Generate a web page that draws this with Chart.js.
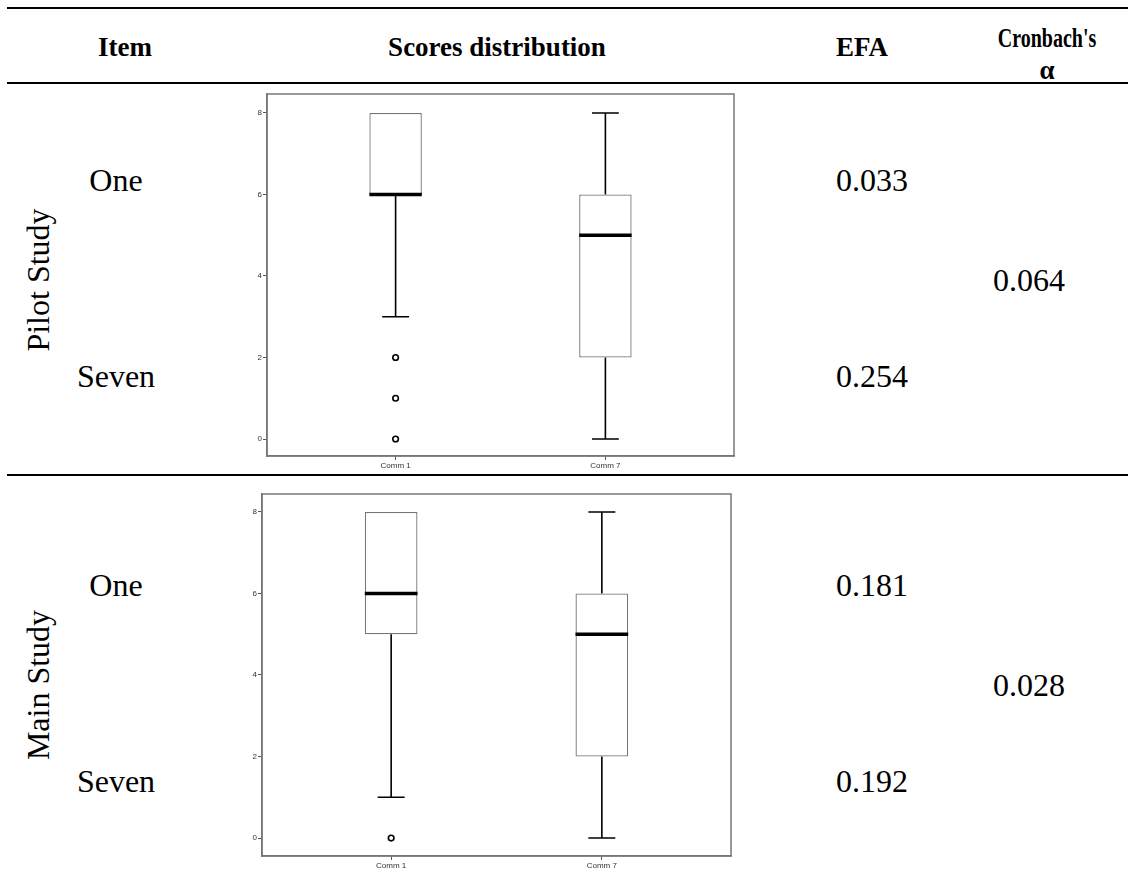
<!DOCTYPE html>
<html>
<head>
<meta charset="utf-8">
<script src="https://cdn.jsdelivr.net/npm/chart.js@4.4.1/dist/chart.umd.min.js"></script>
<style>
  html, body { margin: 0; padding: 0; background: #fff; }
  #page { position: relative; width: 1128px; height: 876px; overflow: hidden; font-family: "Liberation Serif", "Times New Roman", serif; color: #000; }
  .rule { position: absolute; left: 7px; right: 0; height: 2px; background: #000; }
  .txt { position: absolute; transform: translate(-50%, -50%); white-space: nowrap; font-size: 32px; line-height: 1; }
  .hd { font-weight: bold; font-size: 27px; }
  .narrow { transform: translate(-50%, -50%) scaleX(0.74); }
  .rot { transform: translate(-50%, -50%) rotate(-90deg); }
  .plot { position: absolute; }
</style>
</head>
<body>
<div id="page">
  <div class="rule" style="top:7px"></div>
  <div class="rule" style="top:82px"></div>
  <div class="rule" style="top:474px"></div>

  <div class="txt hd" style="left:125px; top:47px">Item</div>
  <div class="txt hd" style="left:497px; top:47px">Scores distribution</div>
  <div class="txt hd" style="left:862px; top:47px">EFA</div>
  <div class="txt hd narrow" style="left:1047px; top:38px">Cronbach's</div>
  <div class="txt hd" style="left:1047px; top:70px">α</div>

  <div id="pilot-labels"></div>
  <div id="main-labels"></div>

  <div class="plot" style="left:247px; top:92px; width:489px; height:384px"><canvas id="pilot-chart"></canvas></div>
  <div class="plot" style="left:242px; top:492px; width:491px; height:384px"><canvas id="main-chart"></canvas></div>
</div>

<script>
// --- data ---
const categories = ['Comm 1', 'Comm 7'];
const yTicks = [0, 2, 4, 6, 8];
const items = ['One', 'Seven'];

// Pilot study box plots
const pilotMin = [3, 0];
const pilotQ1 = [6, 2];
const pilotMedian = [6, 5];
const pilotQ3 = [8, 6];
const pilotMax = [8, 8];
const pilotOutliers = [[2, 1, 0], []];
const pilotEfa = ['0.033', '0.254'];
const pilotAlpha = '0.064';

// Main study box plots
const mainMin = [1, 0];
const mainQ1 = [5, 2];
const mainMedian = [6, 5];
const mainQ3 = [8, 6];
const mainMax = [8, 8];
const mainOutliers = [[0], []];
const mainEfa = ['0.181', '0.192'];
const mainAlpha = '0.028';

// --- table text ---
function addLabels(containerId, title, efa, alpha, y0) {
    const box = document.getElementById(containerId);
    const rows = [
        { text: title, x: 38, y: y0 + 100, cls: 'txt rot' },
        { text: items[0], x: 116, y: y0, cls: 'txt' },
        { text: items[1], x: 116, y: y0 + 196, cls: 'txt' },
        { text: efa[0], x: 872, y: y0, cls: 'txt' },
        { text: efa[1], x: 872, y: y0 + 196, cls: 'txt' },
        { text: alpha, x: 1029, y: y0 + 100, cls: 'txt' }
    ];
    rows.forEach(r => {
        const d = document.createElement('div');
        d.className = r.cls;
        d.style.left = r.x + 'px';
        d.style.top = r.y + 'px';
        d.textContent = r.text;
        box.appendChild(d);
    });
}
addLabels('pilot-labels', 'Pilot Study', pilotEfa, pilotAlpha, 180);
addLabels('main-labels', 'Main Study', mainEfa, mainAlpha, 585);

// --- box plots ---
const frame = {
    id: 'frame',
    afterDraw(chart) {
        const { ctx, chartArea: a } = chart;
        ctx.save();
        ctx.strokeStyle = '#777';
        ctx.lineWidth = 1.5;
        ctx.strokeRect(a.left, a.top, a.right - a.left, a.bottom - a.top);
        ctx.restore();
    }
};

function noPadding(s) {
    s.paddingTop = 0;
    s.paddingBottom = 0;
    s.paddingLeft = 0;
    s.paddingRight = 0;
}

function createBoxChart(canvasId, mins, q1s, medians, q3s, maxs, outliers, yMin, yMax) {
    const capHalf = 0.064;
    const boxHalf = 0.125;
    const whiskers = [];
    const medianLines = [];
    const points = [];
    categories.forEach((c, i) => {
        const x = i + 1;
        if (maxs[i] > q3s[i]) {
            whiskers.push({ x: x, y: q3s[i] }, { x: x, y: maxs[i] }, { x: x, y: null });
            whiskers.push({ x: x - capHalf, y: maxs[i] }, { x: x + capHalf, y: maxs[i] }, { x: x, y: null });
        }
        if (mins[i] < q1s[i]) {
            whiskers.push({ x: x, y: q1s[i] }, { x: x, y: mins[i] }, { x: x, y: null });
            whiskers.push({ x: x - capHalf, y: mins[i] }, { x: x + capHalf, y: mins[i] }, { x: x, y: null });
        }
        medianLines.push({ x: x - boxHalf, y: medians[i] }, { x: x + boxHalf, y: medians[i] }, { x: x, y: null });
        outliers[i].forEach(v => points.push({ x: x, y: v }));
    });

    new Chart(document.getElementById(canvasId), {
        data: {
            datasets: [
                {
                    type: 'line',
                    data: whiskers,
                    borderColor: '#000',
                    borderWidth: 1.6,
                    pointRadius: 0,
                    spanGaps: false,
                    order: 3
                },
                {
                    type: 'bar',
                    data: categories.map((c, i) => ({ x: i + 1, y: [q1s[i], q3s[i]] })),
                    backgroundColor: '#fff',
                    borderColor: '#777',
                    borderWidth: 1.3,
                    borderSkipped: false,
                    grouped: false,
                    categoryPercentage: 1,
                    barPercentage: 0.25,
                    order: 2
                },
                {
                    type: 'line',
                    data: medianLines,
                    borderColor: '#000',
                    borderWidth: 3.5,
                    pointRadius: 0,
                    spanGaps: false,
                    order: 1
                },
                {
                    type: 'scatter',
                    data: points,
                    pointRadius: 2.8,
                    pointBorderWidth: 1.6,
                    pointBackgroundColor: '#fff',
                    pointBorderColor: '#000',
                    order: 0
                }
            ]
        },
        options: {
            responsive: true,
            maintainAspectRatio: false,
            animation: false,
            layout: { autoPadding: false, padding: { top: 2, right: 2, left: 0, bottom: 0 } },
            plugins: { legend: { display: false }, tooltip: { enabled: false } },
            scales: {
                x: {
                    type: 'linear',
                    offset: false,
                    min: 0.387,
                    max: 2.613,
                    afterBuildTicks: s => { s.ticks = categories.map((c, i) => ({ value: i + 1 })); },
                    afterFit: s => { s.height = 20; noPadding(s); },
                    grid: { offset: false, drawOnChartArea: false, drawTicks: true, tickLength: 4, color: '#555' },
                    border: { color: '#777', width: 1.5 },
                    ticks: {
                        callback: v => categories[v - 1],
                        font: { family: 'Liberation Sans, Arial, sans-serif', size: 8 },
                        color: '#333',
                        padding: 1,
                        maxRotation: 0,
                        autoSkip: false
                    }
                },
                y: {
                    min: yMin,
                    max: yMax,
                    afterBuildTicks: s => { s.ticks = yTicks.map(v => ({ value: v })); },
                    afterFit: s => { s.width = 20; noPadding(s); },
                    grid: { drawOnChartArea: false, drawTicks: true, tickLength: 4, color: '#555' },
                    border: { color: '#777', width: 1.5 },
                    ticks: {
                        font: { family: 'Liberation Sans, Arial, sans-serif', size: 8 },
                        color: '#333',
                        padding: 1
                    }
                }
            }
        },
        plugins: [frame]
    });
}

createBoxChart('pilot-chart', pilotMin, pilotQ1, pilotMedian, pilotQ3, pilotMax, pilotOutliers, -0.417, 8.466);
createBoxChart('main-chart', mainMin, mainQ1, mainMedian, mainQ3, mainMax, mainOutliers, -0.44, 8.44);
</script>
</body>
</html>
